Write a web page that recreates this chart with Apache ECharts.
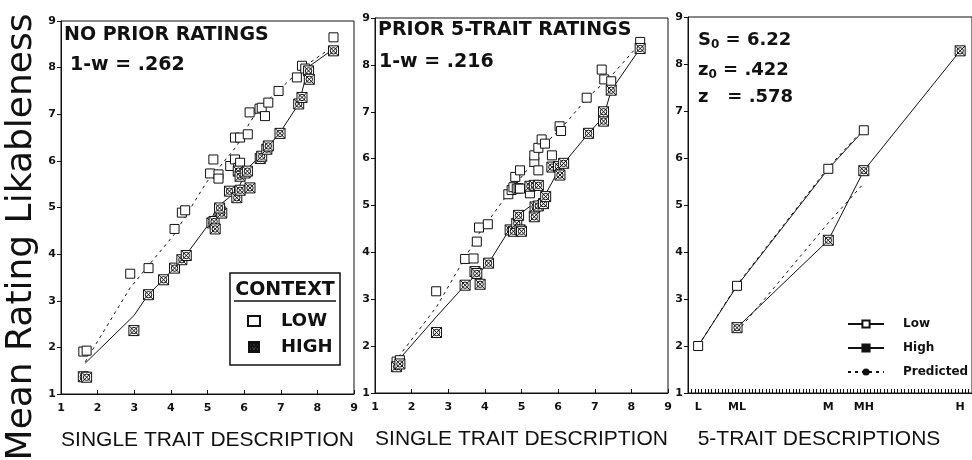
<!DOCTYPE html>
<html>
<head>
<meta charset="utf-8">
<title>Mean Rating Likableness</title>
<script src="https://cdn.jsdelivr.net/npm/echarts@6.0.0/dist/echarts.min.js"></script>
<style>
  html, body { margin: 0; padding: 0; background: #fff; }
  #chart { width: 972px; height: 460px; }
</style>
</head>
<body>
<div id="chart"></div>
<script>
// 左图: no prior ratings  [single trait, rating]
const noPriorLow = [
  [1.61, 1.91], [1.70, 1.93], [2.89, 3.58], [3.39, 3.70], [4.10, 4.54], [4.30, 4.89],
  [4.39, 4.94], [5.07, 5.73], [5.16, 6.03], [5.30, 5.71], [5.30, 5.62], [5.62, 5.89],
  [5.75, 6.03], [5.84, 5.85], [5.89, 5.96], [5.75, 6.50], [5.89, 6.50], [6.10, 6.57],
  [6.15, 7.04], [6.42, 7.12], [6.48, 7.14], [6.57, 6.96], [6.66, 7.25], [6.94, 7.50],
  [7.44, 7.79], [7.58, 8.04], [7.67, 7.98], [8.44, 8.65]
];
const noPriorHigh = [
  [1.61, 1.37], [1.70, 1.36], [2.99, 2.36], [3.39, 3.13], [3.80, 3.45], [4.10, 3.70],
  [4.30, 3.88], [4.42, 3.97], [5.12, 4.67], [5.18, 4.70], [5.21, 4.54], [5.34, 4.92],
  [5.39, 4.88], [5.33, 4.99], [5.60, 5.35], [5.80, 5.21], [5.89, 5.37], [6.16, 5.42],
  [5.84, 5.78], [5.89, 5.67], [6.03, 5.74], [6.09, 5.78], [6.44, 6.05], [6.48, 6.10],
  [6.62, 6.25], [6.66, 6.32], [6.98, 6.59], [7.49, 7.22], [7.58, 7.36], [7.76, 7.93],
  [7.78, 7.75], [8.44, 8.36]
];
const noPriorPredLow = [
  [1.66, 1.69], [2.89, 3.28], [4.09, 4.42], [4.98, 5.55], [5.34, 5.88], [5.80, 6.32],
  [6.16, 6.83], [6.44, 7.15], [6.98, 7.54], [7.62, 8.01], [8.44, 8.46]
];
const noPriorPredHigh = [
  [1.66, 1.66], [2.99, 2.68], [3.38, 3.13], [3.79, 3.45], [4.42, 3.99], [5.07, 4.68],
  [5.25, 5.00], [5.80, 5.35], [6.12, 5.86], [6.44, 6.10], [6.98, 6.61], [7.49, 7.22],
  [7.67, 7.75], [7.80, 8.04], [8.44, 8.40]
];

// 中图: prior 5-trait ratings
const priorLow = [
  [1.59, 1.67], [1.68, 1.70], [2.67, 3.17], [3.46, 3.86], [3.69, 3.87], [3.78, 4.23],
  [3.84, 4.53], [4.08, 4.60], [4.64, 5.24], [4.73, 5.33], [4.78, 5.39], [4.87, 5.36],
  [4.92, 5.37], [4.96, 5.36], [5.23, 5.26], [4.83, 5.61], [4.96, 5.75], [5.35, 5.93],
  [5.35, 6.07], [5.46, 5.75], [5.46, 6.23], [5.55, 6.41], [5.64, 6.32], [5.83, 6.07],
  [6.04, 6.69], [6.08, 6.59], [6.78, 7.30], [7.19, 7.90], [7.26, 7.69], [7.45, 7.65],
  [8.24, 8.49]
];
const priorHigh = [
  [1.59, 1.56], [1.68, 1.62], [2.68, 2.29], [3.46, 3.30], [3.73, 3.59], [3.78, 3.55],
  [3.87, 3.32], [4.10, 3.77], [4.69, 4.48], [4.78, 4.45], [4.87, 4.62], [4.96, 4.48],
  [5.00, 4.45], [4.92, 4.79], [5.35, 4.76], [5.37, 4.97], [5.46, 4.99], [5.60, 5.04],
  [5.66, 5.19], [5.23, 5.41], [5.35, 5.43], [5.46, 5.43], [5.83, 5.82], [6.01, 5.83],
  [6.05, 5.65], [6.15, 5.90], [6.83, 6.54], [7.24, 6.80], [7.24, 7.00], [7.45, 7.46],
  [8.24, 8.35]
];
const priorPredLow = [
  [1.64, 1.77], [2.69, 2.85], [3.84, 4.40], [4.64, 5.26], [5.37, 5.97], [5.64, 6.32],
  [6.08, 6.64], [6.78, 7.28], [7.47, 7.78], [8.24, 8.46]
];
const priorPredHigh = [
  [1.64, 1.70], [2.69, 2.64], [3.46, 3.30], [3.87, 3.59], [4.10, 3.77], [4.69, 4.51],
  [4.92, 4.80], [5.28, 5.01], [5.64, 5.22], [6.05, 5.80], [6.83, 6.54], [7.24, 6.89],
  [7.45, 7.46], [8.24, 8.35]
];

// 右图: 5-trait descriptions
const levelLabels = ["L", "ML", "M", "MH", "H"];
const levelPos = [3, 14.5, 41.5, 52, 80.5];
const fiveLow = [2.00, 3.28, 5.77, 6.59, null];
const fiveHigh = [null, 2.39, 4.25, 5.73, 8.28];
const fivePredLow = [2.00, 3.30, 5.80, 6.62, null];
const fivePredHigh = [null, 2.30, 4.62, 5.46, null];

const yTicks = [1, 2, 3, 4, 5, 6, 7, 8, 9];

const INK = "#111";
const FONT = "DejaVu Sans";
// 高 context 的符号: 方框 + X + 圆
const HIGH_SYMBOL =
  "path://M0,0H10V10H0Z M0,0L10,10 M10,0L0,10 M8.2,5A3.2,3.2 0 1 1 1.8,5A3.2,3.2 0 1 1 8.2,5Z";

function toPairs(vals) {
  return levelPos.map((p, i) => [p, vals[i]]).filter(d => d[1] != null);
}

function yAxisOf(gi) {
  return {
    type: "value",
    gridIndex: gi,
    min: yTicks[0],
    max: yTicks[yTicks.length - 1],
    interval: 1,
    axisLine: { show: true, lineStyle: { color: INK, width: 1 } },
    axisTick: { show: true, length: 4, lineStyle: { color: INK } },
    axisLabel: { color: INK, fontFamily: FONT, fontWeight: "bold", fontSize: 11, margin: 5 },
    splitLine: { show: false }
  };
}

function traitAxis(gi) {
  return {
    type: "value",
    gridIndex: gi,
    min: 1,
    max: 9,
    interval: 1,
    name: "SINGLE TRAIT DESCRIPTION",
    nameLocation: "middle",
    nameGap: 36,
    nameTextStyle: { color: INK, fontFamily: "Liberation Sans", fontSize: 21 },
    axisLine: { show: true, lineStyle: { color: INK, width: 1 } },
    axisTick: { show: true, inside: true, length: 4, lineStyle: { color: INK } },
    axisLabel: { color: INK, fontFamily: FONT, fontWeight: "bold", fontSize: 11, margin: 9 },
    splitLine: { show: false }
  };
}

function lowScatter(data, gi) {
  return {
    type: "scatter", name: "LOW", xAxisIndex: gi, yAxisIndex: gi, data: data,
    symbol: "rect", symbolSize: 9, z: 4,
    itemStyle: { color: "#fff", borderColor: INK, borderWidth: 1, opacity: 1 }
  };
}

function highScatter(data, gi) {
  return {
    type: "scatter", name: "HIGH", xAxisIndex: gi, yAxisIndex: gi, data: data,
    symbol: HIGH_SYMBOL, symbolSize: 10, z: 5,
    itemStyle: { color: "#fff", borderColor: INK, borderWidth: 1, opacity: 1 }
  };
}

function predLine(data, gi, dashed, name) {
  return {
    type: "line", name: name || "", xAxisIndex: gi, yAxisIndex: gi, data: data,
    symbol: "none", z: 2, silent: true,
    itemStyle: { color: INK },
    lineStyle: { color: INK, width: 1, type: dashed ? [3, 4] : "solid" }
  };
}

const chart = echarts.init(document.getElementById("chart"));

const option = {
  backgroundColor: "#fff",
  animation: false,
  grid: [
    { left: 61, top: 21, width: 293, height: 373, show: true, borderColor: INK, borderWidth: 1 },
    { left: 375, top: 18, width: 293, height: 375, show: true, borderColor: INK, borderWidth: 1 },
    { left: 688, top: 17, width: 294, height: 376, show: true, borderColor: INK, borderWidth: 1 }
  ],
  xAxis: [
    traitAxis(0),
    traitAxis(1),
    {
      type: "value",
      gridIndex: 2,
      min: 0,
      max: 84,
      interval: 1,
      name: "5-TRAIT DESCRIPTIONS",
      nameLocation: "middle",
      nameGap: 36,
      nameTextStyle: { color: INK, fontFamily: "Liberation Sans", fontSize: 21, padding: [0, 22, 0, 0] },
      axisLine: { show: true, lineStyle: { color: INK, width: 1 } },
      axisTick: { show: true, inside: true, length: 4, lineStyle: { color: INK } },
      axisLabel: {
        color: INK, fontFamily: FONT, fontWeight: "bold", fontSize: 11, margin: 9,
        customValues: levelPos,
        formatter: v => {
          const i = levelPos.indexOf(v);
          return i >= 0 ? levelLabels[i] : "";
        }
      },
      splitLine: { show: false }
    }
  ],
  yAxis: [yAxisOf(0), yAxisOf(1), yAxisOf(2)],
  legend: [
    {
      data: ["LOW", "HIGH"],
      orient: "vertical",
      left: 242,
      top: 307,
      itemGap: 8,
      itemWidth: 12,
      itemHeight: 10,
      selectedMode: false,
      textStyle: { color: INK, fontFamily: FONT, fontWeight: "bold", fontSize: 18, padding: [0, 0, 0, 16] }
    },
    {
      data: ["Low", "High", "Predicted"],
      orient: "vertical",
      left: 842,
      top: 313,
      itemGap: 12,
      itemWidth: 36,
      itemHeight: 9,
      selectedMode: false,
      textStyle: { color: INK, fontFamily: FONT, fontWeight: "bold", fontSize: 12, padding: [0, 0, 0, 14] }
    }
  ],
  graphic: [
    {
      type: "text", x: 22, y: 237, rotation: Math.PI / 2,
      style: {
        text: "Mean Rating Likableness", fill: INK, font: "36px 'DejaVu Sans'",
        align: "center", verticalAlign: "middle"
      }
    },
    { type: "text", x: 64, y: 35, style: { text: "NO PRIOR RATINGS", fill: INK, font: "bold 19px 'DejaVu Sans'", verticalAlign: "middle" } },
    { type: "text", x: 70, y: 65, style: { text: "1-w = .262", fill: INK, font: "bold 19px 'DejaVu Sans'", verticalAlign: "middle" } },
    { type: "text", x: 378, y: 30, style: { text: "PRIOR 5-TRAIT RATINGS", fill: INK, font: "bold 19px 'DejaVu Sans'", verticalAlign: "middle" } },
    { type: "text", x: 379, y: 62, style: { text: "1-w = .216", fill: INK, font: "bold 19px 'DejaVu Sans'", verticalAlign: "middle" } },
    {
      type: "text", x: 698, y: 40,
      style: {
        text: "S{s|0} = 6.22", fill: INK, font: "bold 18px 'DejaVu Sans'", verticalAlign: "middle",
        rich: { s: { font: "bold 12px 'DejaVu Sans'", padding: [10, 0, 0, 0], fill: INK } }
      }
    },
    {
      type: "text", x: 698, y: 70,
      style: {
        text: "z{s|0} = .422", fill: INK, font: "bold 18px 'DejaVu Sans'", verticalAlign: "middle",
        rich: { s: { font: "bold 12px 'DejaVu Sans'", padding: [10, 0, 0, 0], fill: INK } }
      }
    },
    { type: "text", x: 698, y: 97, style: { text: "z   = .578", fill: INK, font: "bold 18px 'DejaVu Sans'", verticalAlign: "middle" } },
    // CONTEXT 图例框
    { type: "rect", shape: { x: 230, y: 273, width: 110, height: 92 }, style: { fill: "none", stroke: INK, lineWidth: 1.5 }, z: 10 },
    { type: "text", x: 285, y: 290, style: { text: "CONTEXT", fill: INK, font: "bold 19px 'DejaVu Sans'", align: "center", verticalAlign: "middle" }, z: 10 },
    { type: "line", shape: { x1: 234, y1: 301, x2: 336, y2: 301 }, style: { stroke: INK, lineWidth: 1.5 }, z: 10 }
  ],
  series: [
    predLine(noPriorPredLow, 0, true),
    predLine(noPriorPredHigh, 0, false),
    lowScatter(noPriorLow, 0),
    highScatter(noPriorHigh, 0),

    predLine(priorPredLow, 1, true),
    predLine(priorPredHigh, 1, false),
    lowScatter(priorLow, 1),
    highScatter(priorHigh, 1),

    predLine(toPairs(fivePredLow), 2, true, "Predicted"),
    predLine(toPairs(fivePredHigh), 2, true, "Predicted"),
    {
      type: "line", name: "Low", xAxisIndex: 2, yAxisIndex: 2, data: toPairs(fiveLow),
      symbol: "rect", symbolSize: 9, showAllSymbol: true, z: 4,
      lineStyle: { color: INK, width: 1 },
      itemStyle: { color: "#fff", borderColor: INK, borderWidth: 1 }
    },
    {
      type: "line", name: "High", xAxisIndex: 2, yAxisIndex: 2, data: toPairs(fiveHigh),
      symbol: HIGH_SYMBOL, symbolSize: 10, showAllSymbol: true, z: 5,
      lineStyle: { color: INK, width: 1 },
      itemStyle: { color: "#fff", borderColor: INK, borderWidth: 1 }
    }
  ]
};

chart.setOption(option);
</script>
</body>
</html>
